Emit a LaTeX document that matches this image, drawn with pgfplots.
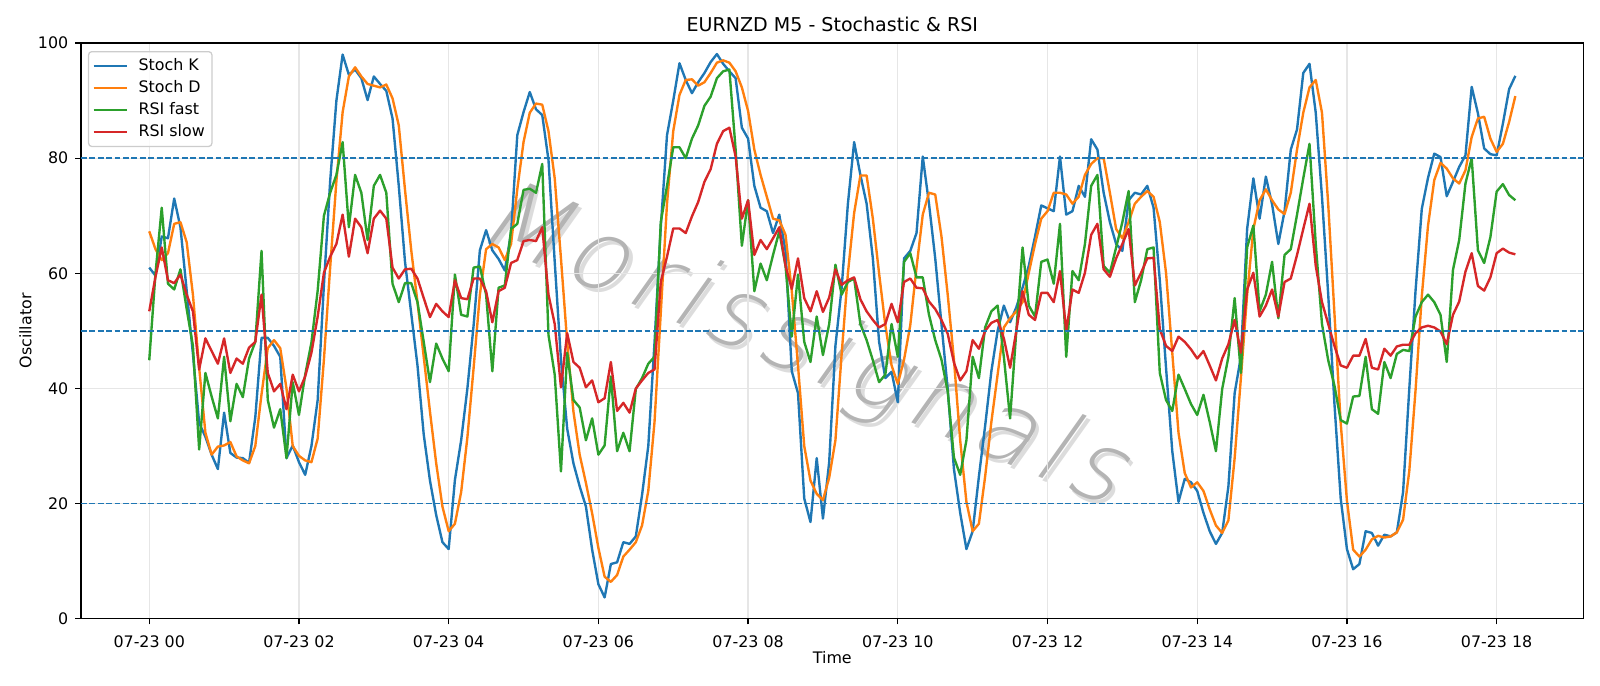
\documentclass[border=0pt]{standalone}
\usepackage{fontspec}
\setmainfont{DejaVu Sans}
\newfontfamily\wmfont[FakeSlant=0.22, LetterSpace=8]{DejaVu Sans ExtraLight}
\usepackage{pgfplots}
\usepackage{pgfplotstable}
\pgfplotsset{compat=1.18}
\definecolor{c0}{HTML}{1F77B4}
\definecolor{c1}{HTML}{FF7F0E}
\definecolor{c2}{HTML}{2CA02C}
\definecolor{c3}{HTML}{D62728}
\definecolor{gridc}{HTML}{E6E6E6}
\definecolor{legc}{HTML}{CCCCCC}
\definecolor{wmc}{HTML}{B4B4B4}
\definecolor{wms}{HTML}{DCDCDC}
\pgfplotstableread{
i K D F S
0 61.0 67.3 44.9 53.4
1 59.6 64.2 60.0 59.4
2 66.4 62.3 71.4 64.5
3 66.1 63.5 58.2 58.8
4 73.0 68.6 57.2 58.3
5 68.0 68.9 60.7 59.8
6 57.0 65.4 53.8 56.3
7 46.0 56.3 47.4 53.4
8 34.0 43.6 29.4 43.3
9 31.6 32.3 42.7 48.7
10 28.5 28.5 38.6 46.5
11 26.0 29.9 34.8 44.3
12 35.8 30.1 45.5 48.7
13 28.8 30.7 34.3 42.7
14 28.0 28.2 40.8 45.2
15 27.9 27.5 38.5 44.3
16 27.1 27.0 45.2 47.1
17 35.0 30.0 48.1 48.1
18 48.8 39.0 63.9 56.3
19 48.8 47.0 38.0 42.7
20 47.4 48.4 33.2 39.5
21 45.5 47.0 36.4 40.8
22 27.9 40.0 27.9 36.4
23 30.1 30.0 41.1 42.4
24 27.2 28.3 35.4 39.5
25 25.0 27.5 42.4 42.1
26 30.0 27.2 48.0 46.2
27 38.0 31.3 57.0 52.5
28 58.0 45.0 70.0 60.1
29 76.0 61.0 74.0 62.9
30 90.0 76.0 77.1 65.1
31 98.0 88.0 82.8 70.2
32 94.5 94.2 68.0 62.9
33 95.4 95.8 77.1 69.5
34 93.9 94.2 74.0 68.0
35 90.1 92.9 65.8 63.5
36 94.2 92.6 75.2 69.5
37 92.9 92.3 77.1 70.9
38 91.7 92.8 74.0 69.5
39 86.9 90.4 58.2 61.0
40 75.2 85.7 55.0 59.1
41 62.0 74.5 58.3 60.7
42 53.0 64.0 58.3 60.8
43 44.0 55.0 55.0 59.1
44 32.0 45.5 48.1 55.7
45 24.0 36.0 41.1 52.4
46 18.0 27.0 47.8 54.7
47 13.3 19.5 45.2 53.4
48 12.1 15.2 43.0 52.4
49 24.1 16.5 59.8 58.8
50 31.0 22.0 52.8 55.7
51 40.0 31.5 52.5 55.5
52 51.0 43.6 61.0 59.1
53 64.0 56.3 61.2 59.1
54 67.5 64.2 56.3 56.9
55 64.0 65.1 43.0 51.5
56 62.5 64.5 57.5 56.9
57 60.5 62.3 57.9 57.5
58 67.0 65.1 67.7 61.8
59 84.0 74.6 68.6 62.3
60 88.0 82.8 74.5 65.6
61 91.5 87.9 74.7 65.8
62 88.5 89.5 74.0 65.6
63 87.5 89.3 79.0 68.0
64 79.7 84.7 49.3 56.3
65 62.0 76.5 42.4 51.2
66 45.0 62.6 25.6 40.2
67 33.0 48.0 46.2 49.6
68 27.0 36.0 38.0 44.6
69 23.0 28.5 36.7 43.6
70 19.5 23.6 31.0 40.2
71 12.0 18.3 34.8 41.4
72 6.0 12.3 28.5 37.6
73 3.7 7.3 30.1 38.3
74 9.5 6.4 42.1 44.6
75 9.8 7.6 29.1 36.1
76 13.3 10.8 32.3 37.5
77 13.0 12.0 29.1 35.8
78 14.3 13.3 39.9 40.0
79 21.5 16.2 41.8 41.4
80 30.0 22.2 44.3 42.7
81 48.0 34.2 45.5 43.3
82 68.0 53.1 68.9 58.5
83 84.0 72.1 75.2 62.9
84 90.0 84.7 81.9 67.8
85 96.5 91.0 81.9 67.8
86 93.6 93.6 80.0 67.0
87 91.3 93.7 83.4 69.9
88 93.2 92.6 85.7 72.4
89 94.8 93.2 89.1 75.9
90 96.7 94.8 90.7 78.1
91 98.1 96.6 93.9 82.5
92 96.4 97.0 95.1 84.7
93 95.1 96.6 95.4 85.3
94 93.9 95.1 81.5 80.3
95 85.3 92.3 64.8 69.5
96 83.4 88.2 72.7 72.7
97 75.2 81.5 56.9 63.2
98 71.4 77.1 61.7 65.8
99 70.8 73.3 58.8 64.2
100 67.0 69.5 63.2 66.1
101 70.2 69.2 67.3 68.0
102 63.9 66.7 61.3 61.3
103 43.0 57.0 49.0 57.3
104 39.2 44.0 59.8 62.6
105 20.9 30.0 48.1 55.7
106 16.8 24.0 44.6 53.4
107 27.9 21.7 52.5 56.9
108 17.4 20.6 45.8 53.3
109 27.2 24.5 51.2 55.8
110 47.4 31.0 61.5 60.7
111 57.5 46.0 56.3 58.0
112 72.1 60.0 58.5 58.8
113 82.8 70.5 59.1 59.3
114 77.1 77.0 51.2 55.5
115 72.1 77.0 48.4 53.4
116 62.6 69.5 44.9 51.9
117 48.1 60.0 41.1 50.6
118 41.8 51.0 42.4 51.2
119 42.9 44.0 51.2 54.7
120 37.6 40.8 45.5 51.5
121 62.6 45.0 62.0 58.5
122 63.9 51.0 63.5 59.1
123 67.0 61.0 59.3 57.5
124 80.3 70.2 59.3 57.4
125 72.1 74.0 52.8 55.1
126 62.6 73.7 48.4 53.8
127 51.2 66.4 45.0 51.9
128 39.9 56.3 39.5 49.5
129 26.0 45.0 28.0 44.5
130 18.4 31.0 25.0 41.4
131 12.1 20.3 31.0 43.0
132 15.2 15.2 45.5 48.4
133 24.7 16.5 41.8 46.9
134 33.5 24.7 50.6 50.0
135 43.0 34.2 53.4 51.4
136 50.0 42.4 54.4 51.9
137 54.4 50.6 45.5 48.7
138 51.5 52.2 34.8 43.6
139 54.1 53.4 50.0 50.0
140 57.5 55.0 64.5 56.9
141 61.3 60.1 54.4 52.8
142 66.4 65.1 52.5 51.9
143 71.8 69.5 62.0 56.6
144 71.3 70.8 62.4 56.6
145 70.8 74.0 58.2 55.0
146 80.3 74.0 68.6 60.4
147 70.2 73.7 45.5 50.0
148 70.8 72.1 60.4 57.2
149 75.2 73.3 58.8 56.6
150 73.3 77.1 65.1 60.1
151 83.3 79.0 75.2 66.7
152 81.5 80.0 77.1 68.6
153 74.0 80.0 61.3 60.7
154 68.9 74.0 60.1 59.4
155 65.1 67.7 64.5 62.6
156 63.9 66.1 68.9 65.1
157 72.7 68.9 74.3 67.7
158 74.0 72.1 55.0 57.9
159 73.7 73.3 58.8 60.1
160 75.2 74.3 64.2 62.6
161 71.4 73.3 64.5 62.7
162 58.8 68.9 42.7 50.3
163 43.6 60.1 38.0 47.4
164 29.1 46.2 36.1 46.5
165 20.3 32.3 42.4 49.0
166 24.3 25.3 39.9 48.1
167 23.7 22.8 37.3 46.8
168 22.2 23.7 35.4 45.2
169 18.4 22.2 38.9 46.5
170 15.2 19.0 34.2 44.0
171 13.0 16.2 29.1 41.4
172 14.9 14.9 39.9 45.2
173 23.0 17.1 45.5 47.7
174 39.2 27.9 55.7 51.9
175 45.5 41.8 42.7 46.2
176 67.7 56.3 64.5 57.2
177 76.5 67.7 68.3 60.1
178 69.5 72.7 53.4 52.5
179 76.8 74.6 56.3 54.4
180 72.0 72.7 62.0 57.2
181 65.1 71.1 52.2 52.5
182 70.8 70.3 63.2 58.5
183 81.5 74.0 64.2 59.1
184 85.0 81.5 70.2 63.2
185 94.8 87.9 76.5 67.7
186 96.4 92.3 82.5 72.1
187 87.9 93.6 65.1 61.3
188 73.3 87.9 51.2 55.0
189 56.3 72.0 44.9 51.2
190 37.3 53.0 40.5 47.4
191 20.9 34.0 34.5 44.0
192 12.1 20.5 33.9 43.6
193 8.6 12.0 38.6 45.7
194 9.5 10.8 38.7 45.7
195 15.2 12.0 45.5 48.6
196 14.9 13.8 36.4 43.6
197 12.7 14.4 35.6 43.3
198 14.6 14.1 44.6 46.9
199 14.3 14.3 41.8 45.7
200 15.0 15.0 46.0 47.3
201 22.0 17.2 46.7 47.6
202 40.0 25.7 46.5 47.6
203 57.0 39.7 52.5 49.6
204 71.2 56.0 55.0 50.6
205 76.6 68.3 56.3 50.9
206 80.8 76.2 55.0 50.6
207 80.2 79.2 52.8 49.9
208 73.4 78.2 44.6 47.7
209 75.9 76.5 60.6 52.8
210 78.5 75.6 65.8 55.1
211 80.5 77.9 75.6 60.3
212 92.4 83.7 80.0 63.5
213 87.8 86.9 64.0 57.8
214 81.7 87.2 61.8 57.0
215 80.7 83.4 66.3 59.3
216 80.5 81.1 74.2 63.5
217 86.0 82.5 75.5 64.3
218 92.0 86.3 73.6 63.6
219 94.3 90.8 72.7 63.3
}\datatable

\begin{document}
\begin{tikzpicture}
\useasboundingbox (0,0) rectangle (1008bp,432bp);
% watermark
\node[rotate=-23, text=wms, font={\wmfont\fontsize{62bp}{62bp}\selectfont}] at (507bp,211bp) {Morissignals};
\node[rotate=-23, text=wmc, font={\wmfont\fontsize{62bp}{62bp}\selectfont}] at (505bp,213.5bp) {Morissignals};
\begin{axis}[
  at={(51bp,42.2bp)}, anchor=south west,
  scale only axis, width=946.7bp, height=362.65bp,
  xmin=-10.95, xmax=229.95, ymin=0, ymax=100,
  xtick={0,24,48,72,96,120,144,168,192,216},
  xticklabels={07-23 00,07-23 02,07-23 04,07-23 06,07-23 08,07-23 10,07-23 12,07-23 14,07-23 16,07-23 18},
  ytick={0,20,40,60,80,100},
  xtick pos=lower, ytick pos=left,
  tick align=outside, major tick length=3.5bp,
  tick style={line width=0.8bp, black},
  axis line style={line width=0.8bp, black},
  grid=major, major grid style={line width=0.8bp, gridc},
  /pgf/number format/assume math mode=true,
  tick label style={font=\fontsize{10bp}{12bp}\selectfont},
  xticklabel style={yshift=-3.5bp},
  yticklabel style={xshift=-1bp},
  label style={font=\fontsize{10bp}{12bp}\selectfont},
  title={EURNZD M5 - Stochastic \& RSI},
  title style={at={(0.5,1)}, anchor=base, yshift=1.3bp, inner sep=0pt, font=\fontsize{12bp}{14bp}\selectfont},
  xlabel={Time},
  xlabel style={at={(axis description cs:0.5,-0.068)}, anchor=center},
  ylabel={Oscillator},
  ylabel style={at={(axis description cs:-0.037,0.5)}, anchor=center, rotate=0},
  legend style={at={(0,1)}, anchor=north west, xshift=4.4bp, yshift=-5bp,
    draw=legc, line width=0.8bp, rounded corners=2bp, fill=white, fill opacity=0.8, text opacity=1,
    font=\fontsize{10bp}{12bp}\selectfont, row sep=0.8bp, column sep=4.5bp, inner xsep=2.5bp, inner ysep=2.5bp},
  legend cell align=left,
  legend image code/.code={\draw[#1] (0bp,0bp) -- (21bp,0bp);},
  every axis plot/.append style={line width=1.5bp, line join=round},
]
\addplot[c0] table[x=i, y=K] {\datatable};
\addlegendentry{Stoch K}
\addplot[c1] table[x=i, y=D] {\datatable};
\addlegendentry{Stoch D}
\addplot[c2] table[x=i, y=F] {\datatable};
\addlegendentry{RSI fast}
\addplot[c3] table[x=i, y=S] {\datatable};
\addlegendentry{RSI slow}
\addplot[c0, line width=1.1bp, dash pattern=on 3.7bp off 1.6bp, forget plot] coordinates {(-10.95,80) (229.95,80)};
\addplot[c0, line width=1.1bp, dash pattern=on 3.7bp off 1.6bp, forget plot] coordinates {(-10.95,50) (229.95,50)};
\addplot[c0, line width=1.1bp, dash pattern=on 3.7bp off 1.6bp, forget plot] coordinates {(-10.95,20) (229.95,20)};
\end{axis}
\end{tikzpicture}
\end{document}
